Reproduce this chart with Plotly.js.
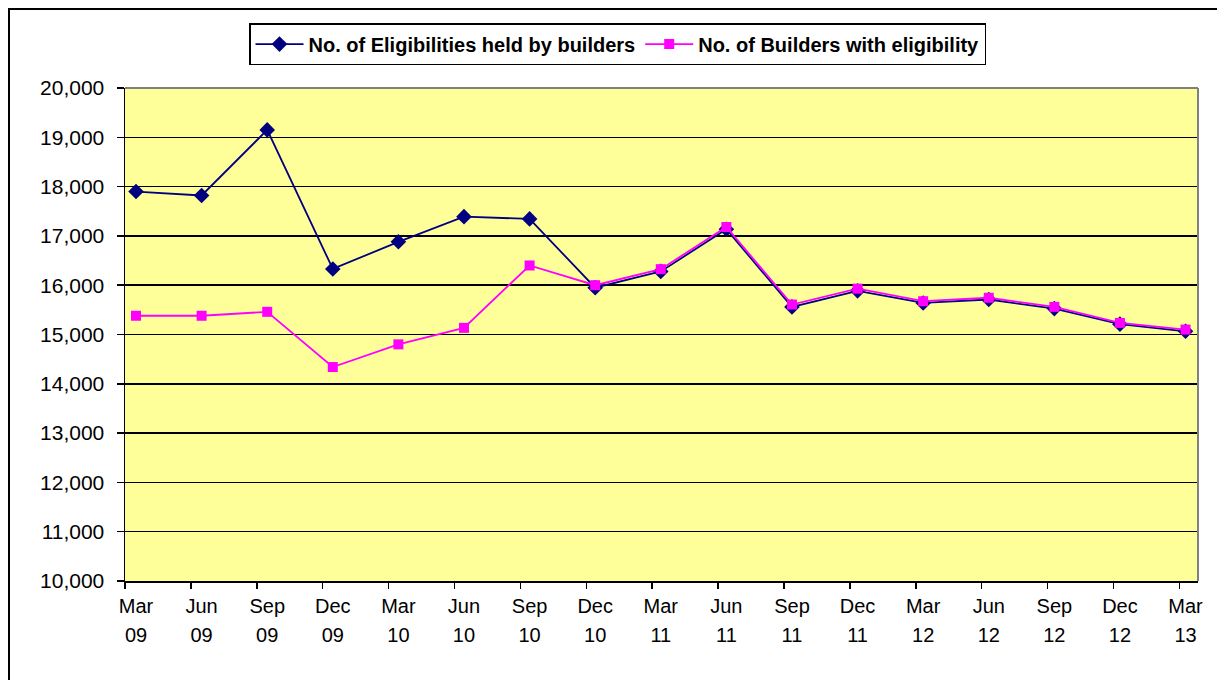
<!DOCTYPE html>
<html>
<head>
<meta charset="utf-8">
<script src="https://cdn.plot.ly/plotly-3.0.1.min.js"></script>
<style>
html,body{margin:0;padding:0;background:#fff;overflow:hidden;}
#chart{width:1217px;height:680px;position:absolute;left:0;top:0;}
#frame{position:absolute;left:8px;top:8px;width:1400px;height:900px;border:2px solid #000;pointer-events:none;box-sizing:border-box;}
</style>
</head>
<body>
<div id="chart"></div>
<div id="frame"></div>
<script>
const months = ["Mar","Jun","Sep","Dec","Mar","Jun","Sep","Dec","Mar","Jun","Sep","Dec","Mar","Jun","Sep","Dec","Mar"];
const years  = ["09","09","09","09","10","10","10","10","11","11","11","11","12","12","12","12","13"];
const eligibilities = [17900,17820,19150,16330,16880,17390,17345,15950,16280,17135,15560,15885,15640,15710,15525,15210,15065];
const builders      = [15380,15380,15460,14340,14800,15135,16400,16000,16325,17180,15608,15930,15675,15745,15560,15235,15100];
const nameA = "No. of Eligibilities held by builders";
const nameB = "No. of Builders with eligibility";

const idx = months.map((m,i)=>i);
const xr = [-0.168, 16.19];
const tickPos = idx.map(k => (-11 + 65.9*k)/65.6);
const font = "Arial, 'Liberation Sans', sans-serif";

const traces = [
  {x: idx, y: eligibilities, name: nameA, type:'scatter', mode:'lines+markers',
   line:{color:'#000080', width:1.8}, marker:{symbol:'diamond', size:12, color:'#000080'}},
  {x: idx, y: builders, name: nameB, type:'scatter', mode:'lines+markers',
   line:{color:'#FF00FF', width:1.8}, marker:{symbol:'square', size:10, color:'#FF00FF'}},
  {x: [], y: [], xaxis:'x2', showlegend:false, hoverinfo:'skip'},
  {x: [], y: [], xaxis:'x3', showlegend:false, hoverinfo:'skip'}
];

const layout = {
  width:1217, height:680,
  margin:{l:125, r:19, t:88, b:99, autoexpand:false},
  paper_bgcolor:'#FFFFFF', plot_bgcolor:'#FFFF99',
  font:{family:font, size:20, color:'#000'},
  showlegend:true,
  legend:{orientation:'h', x:0.459, xanchor:'center', y:1.089, yanchor:'middle',
    bgcolor:'#FFFFFF', bordercolor:'#000', borderwidth:1.5,
    font:{family:font, size:20, color:'#000', weight:'bold'}, itemwidth:48, tracegroupgap:0},
  xaxis:{range:xr, tickmode:'array', tickvals:idx, ticktext:months, ticks:'',
    ticklabelstandoff:6,
    showgrid:false, zeroline:false, showline:true, linecolor:'#000', linewidth:1.5,
    tickfont:{family:font, size:20}, fixedrange:true},
  xaxis2:{overlaying:'x', range:xr, tickmode:'array', tickvals:idx, ticktext:years, ticks:'',
    ticklabelstandoff:40, showgrid:false, zeroline:false, showline:false, side:'bottom', anchor:'y',
    tickfont:{family:font, size:20}},
  xaxis3:{overlaying:'x', range:xr, tickmode:'array', tickvals:tickPos, ticktext:tickPos.map(()=>''),
    ticks:'outside', ticklen:7, tickcolor:'#000', tickwidth:1.5, showticklabels:false,
    showgrid:false, zeroline:false, showline:false, side:'bottom', anchor:'y'},
  yaxis:{range:[10000,20000], dtick:1000, tick0:10000, tickformat:',', ticks:'outside', ticklen:7,
    tickcolor:'#000', tickwidth:1.5, showgrid:true, gridcolor:'#000', gridwidth:1.5,
    ticklabelstandoff:8,
    zeroline:false, showline:true, linecolor:'#000', linewidth:1.5,
    tickfont:{family:font, size:21}, fixedrange:true},
  shapes:[
    {type:'line', xref:'paper', yref:'paper', x0:0, x1:1, y0:1, y1:1, line:{color:'#808080', width:2}, layer:'above'},
    {type:'line', xref:'paper', yref:'paper', x0:1, x1:1, y0:0, y1:1, line:{color:'#808080', width:2}, layer:'above'}
  ]
};
Plotly.newPlot('chart', traces, layout, {displayModeBar:false, staticPlot:true});
</script>
</body>
</html>
